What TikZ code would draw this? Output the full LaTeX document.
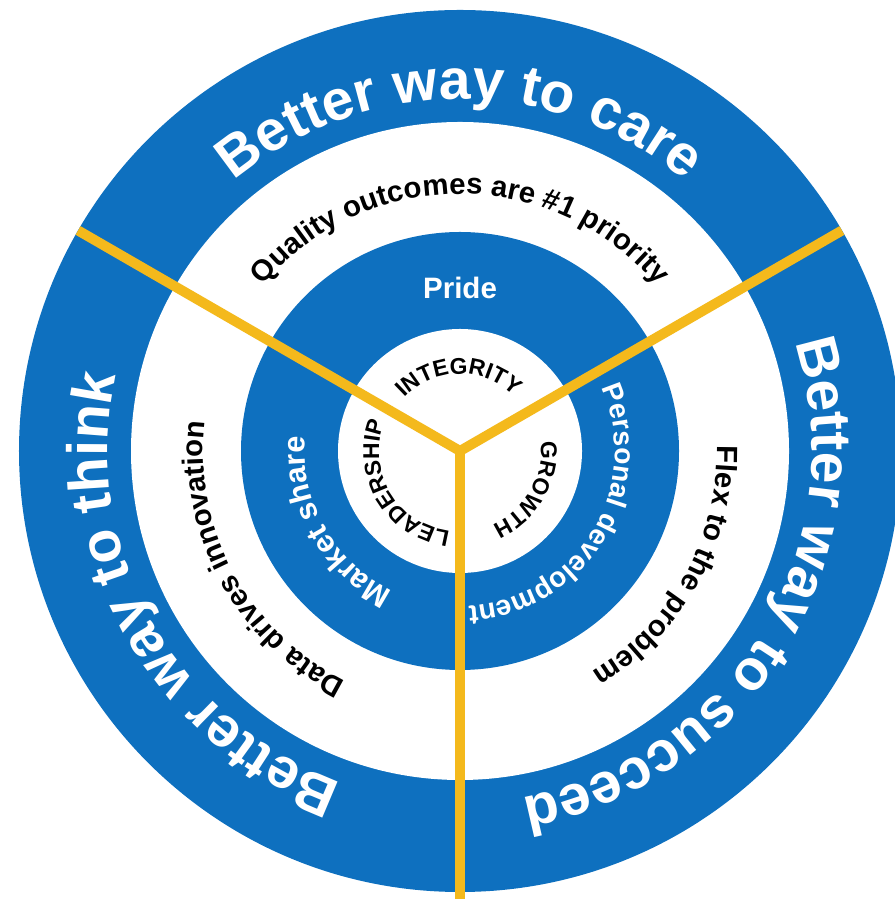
\documentclass[tikz,border=0pt]{standalone}
\usepackage{fontspec}
\setmainfont{Liberation Sans}
\usetikzlibrary{decorations.text}

\definecolor{wheelblue}{RGB}{14,112,191}
\definecolor{spokeyellow}{RGB}{244,185,28}
\newcommand\wayfont{\fontsize{16.2}{18}\selectfont\bfseries}
\newcommand\aimfont{\fontsize{8.35}{10}\selectfont\bfseries}
\newcommand\corefont{\fontsize{6.5}{8}\selectfont\bfseries}

\begin{document}
\begin{tikzpicture}[
  arcword/.style={decorate, decoration={text along path, text align=center, text={#1}}},
  spoke/.style={draw=spokeyellow, line width=1mm}]
\useasboundingbox (-4.60,-4.48) rectangle (4.34,4.51);
\coordinate (O) at (0,0);

% rings
\fill[wheelblue] (O) circle(4.41);
\fill[white] (O) circle(3.29);
\fill[wheelblue] (O) circle(2.19);
\fill[white] (O) circle(1.22);

% spokes
\draw[spoke] (150:4.41) -- (O) -- (30:4.41);
\draw[spoke] (O) -- (270:4.5);

% outer ring
\path[arcword={|\wayfont\color{white}|Better way to care}] (165:3.52) arc[start angle=165, end angle=15, radius=3.52];
\path[arcword={|\wayfont\color{white}|Better way to succeed}] (44:3.52) arc[start angle=44, end angle=-106, radius=3.52];
\path[arcword={|\wayfont\color{white}|Better way to think}] (284:3.52) arc[start angle=284, end angle=134, radius=3.52];

% white ring
\path[arcword={|\aimfont|Quality outcomes are {\#}1 priority}] (165:2.57) arc[start angle=165, end angle=15, radius=2.57];
\path[arcword={|\aimfont|Flex to the problem}] (46:2.57) arc[start angle=46, end angle=-104, radius=2.57];
\path[arcword={|\aimfont|Data drives innovation}] (283.5:2.57) arc[start angle=283.5, end angle=133.5, radius=2.57];

% middle ring
\node[anchor=base, text=white, font=\fontsize{8.4}{10}\selectfont\bfseries] (pride) at (0,1.52) {Pride};
\path[arcword={|\fontsize{8.0}{10}\selectfont\bfseries\color{white}|Personal development}] (43.5:1.55) arc[start angle=43.5, end angle=-106.5, radius=1.55];
\path[arcword={|\fontsize{8.7}{10}\selectfont\bfseries\color{white}|Market share}] (284.5:1.55) arc[start angle=284.5, end angle=134.5, radius=1.55];

% inner circle
\path[arcword={|\corefont|INTEGRITY}] (166:0.77) arc[start angle=166, end angle=16, radius=0.77];
\path[arcword={|\corefont|LEADERSHIP}] (286:0.81) arc[start angle=286, end angle=136, radius=0.81];
\path[arcword={|\corefont|GROWTH}] (45:0.81) arc[start angle=45, end angle=-105, radius=0.81];
\end{tikzpicture}
\end{document}
